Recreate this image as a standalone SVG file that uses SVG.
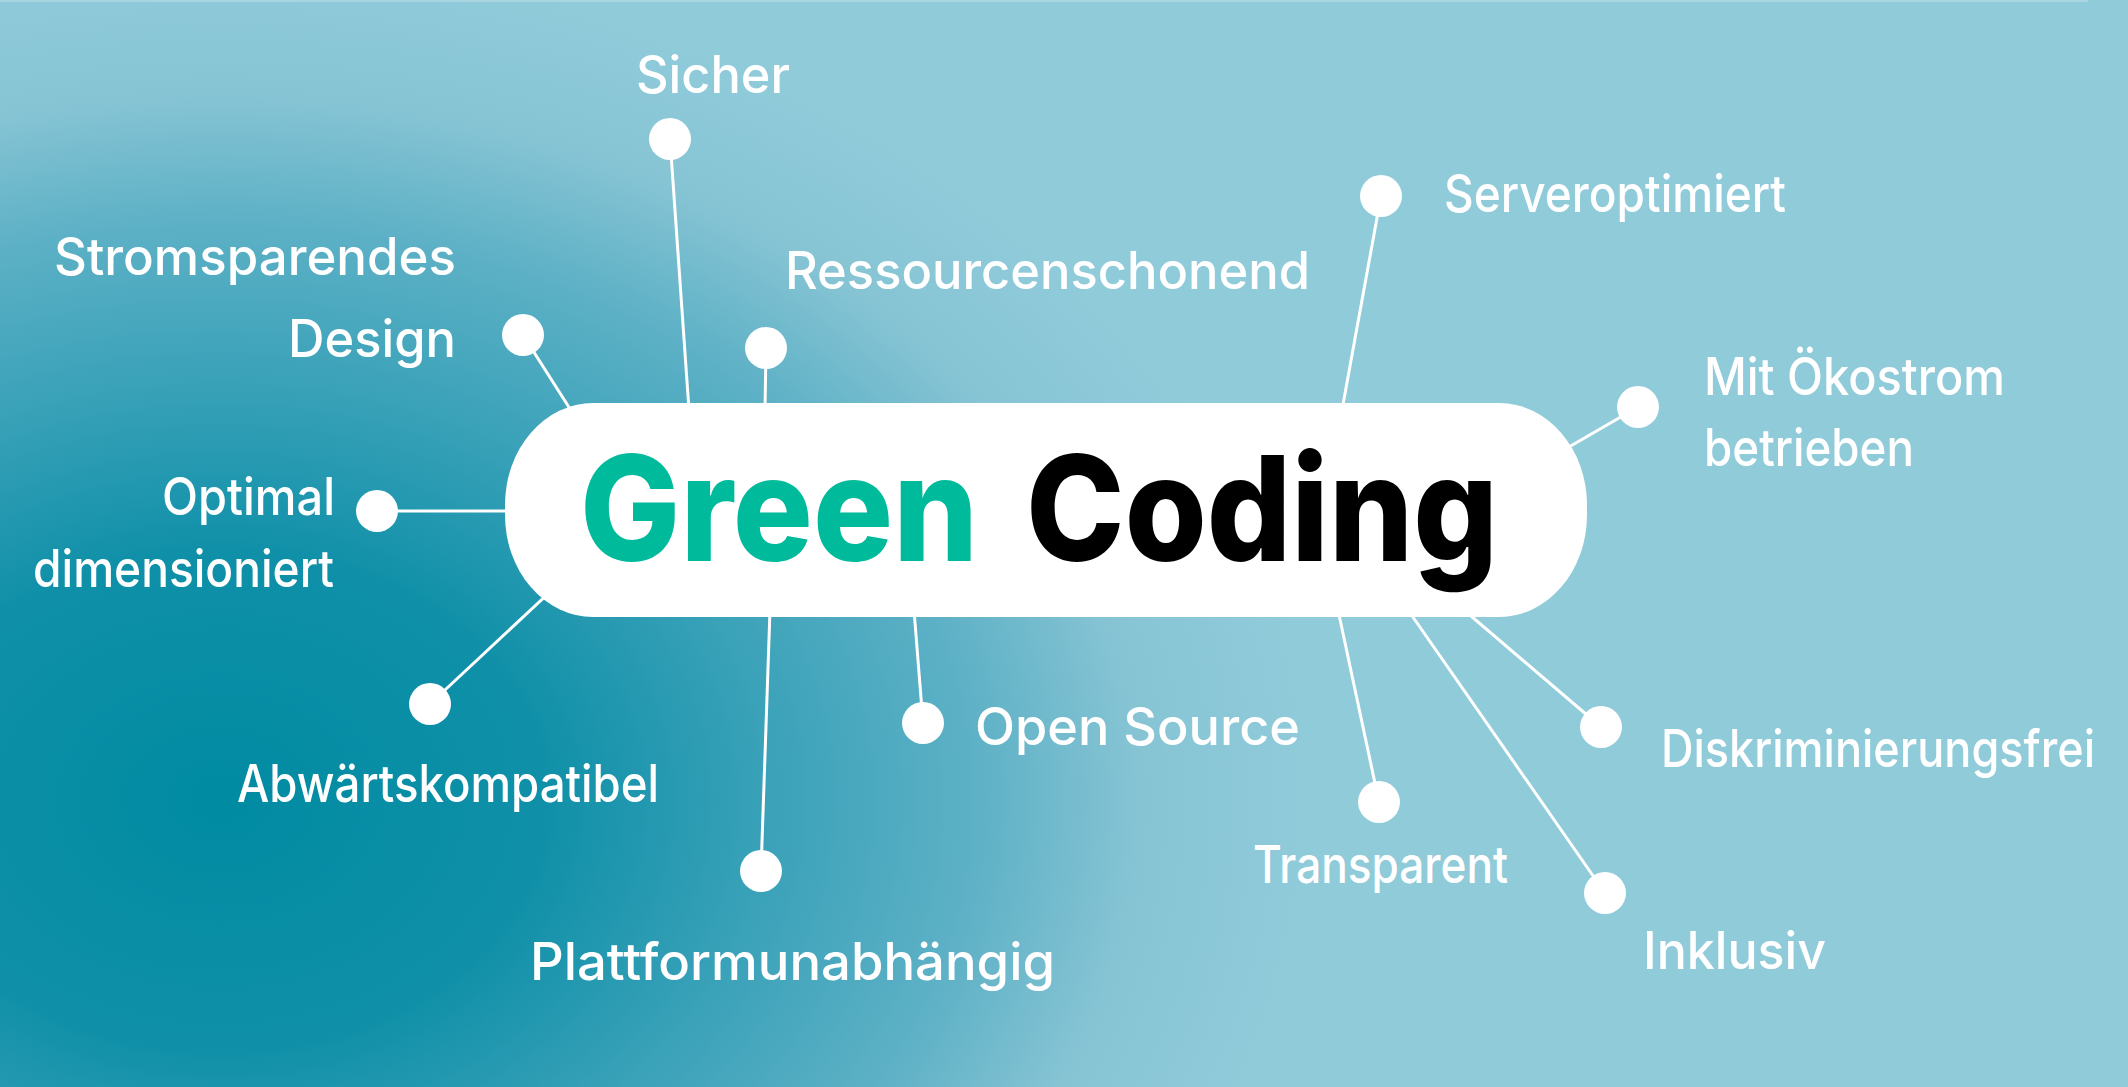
<svg xmlns="http://www.w3.org/2000/svg" width="2128" height="1087" viewBox="0 0 2128 1087">
  <defs>
    <radialGradient id="bg" gradientUnits="userSpaceOnUse" cx="220" cy="800" r="1000" gradientTransform="translate(220 800) scale(1.15 0.88) translate(-220 -800)">
      <stop offset="0" stop-color="#008ba2"/>
      <stop offset="0.28" stop-color="#0f90a8"/>
      <stop offset="0.47" stop-color="#38a1b8"/>
      <stop offset="0.66" stop-color="#5eb1c6"/>
      <stop offset="0.8" stop-color="#86c4d4"/>
      <stop offset="0.95" stop-color="#90cbda"/>
    </radialGradient>
    <style>
      .lbl { font-family: Inter, "Noto Sans", "Liberation Sans", sans-serif; font-weight: 500; font-size: 52px; fill: #ffffff; }
      .title { font-family: Inter, "Noto Sans", "Liberation Sans", sans-serif; font-weight: 800; font-size: 146px; }
      .conn { stroke: #ffffff; stroke-width: 3; fill: none; }
      .dot { fill: #ffffff; }
    </style>
  </defs>

  <rect x="0" y="0" width="2128" height="1087" fill="url(#bg)"/>
  <rect x="0" y="0" width="2088" height="2" fill="#b4d8e2" opacity="0.7"/>

  <g id="connectors">
    <line class="conn" x1="670" y1="139" x2="689" y2="410"/>
    <line class="conn" x1="523" y1="335" x2="572" y2="412"/>
    <line class="conn" x1="766" y1="348" x2="765" y2="410"/>
    <line class="conn" x1="1381" y1="196" x2="1342" y2="410"/>
    <line class="conn" x1="1638" y1="407" x2="1562" y2="451"/>
    <line class="conn" x1="377" y1="511" x2="512" y2="511"/>
    <line class="conn" x1="430" y1="704" x2="552" y2="590"/>
    <line class="conn" x1="761" y1="871" x2="770" y2="610"/>
    <line class="conn" x1="923" y1="723" x2="914" y2="610"/>
    <line class="conn" x1="1379" y1="802" x2="1338" y2="610"/>
    <line class="conn" x1="1605" y1="893" x2="1408" y2="610"/>
    <line class="conn" x1="1601" y1="727" x2="1464" y2="610"/>
  </g>

  <g id="center">
    <rect x="505" y="403" width="1082" height="214" rx="88" ry="102" fill="#ffffff"/>
    <text class="title" x="580" y="561" fill="#00bb9b" textLength="398" lengthAdjust="spacingAndGlyphs">Green</text>
    <text class="title" x="1026" y="561" fill="#000000" textLength="472" lengthAdjust="spacingAndGlyphs">Coding</text>
  </g>

  <g id="n-sicher">
    <circle class="dot" cx="670" cy="139" r="21"/>
    <text class="lbl" x="636" y="93" textLength="154" lengthAdjust="spacingAndGlyphs">Sicher</text>
  </g>
  <g id="n-stromsparend">
    <circle class="dot" cx="523" cy="335" r="21"/>
    <text class="lbl" x="54" y="275" textLength="402" lengthAdjust="spacingAndGlyphs">Stromsparendes</text>
    <text class="lbl" x="288" y="357" textLength="168" lengthAdjust="spacingAndGlyphs">Design</text>
  </g>
  <g id="n-ressourcen">
    <circle class="dot" cx="766" cy="348" r="21"/>
    <text class="lbl" x="785" y="289" textLength="525" lengthAdjust="spacingAndGlyphs">Ressourcenschonend</text>
  </g>
  <g id="n-server">
    <circle class="dot" cx="1381" cy="196" r="21"/>
    <text class="lbl" x="1444" y="212" textLength="342" lengthAdjust="spacingAndGlyphs">Serveroptimiert</text>
  </g>
  <g id="n-oekostrom">
    <circle class="dot" cx="1638" cy="407" r="21"/>
    <text class="lbl" x="1704" y="395" textLength="301" lengthAdjust="spacingAndGlyphs">Mit Ökostrom</text>
    <text class="lbl" x="1704" y="466" textLength="210" lengthAdjust="spacingAndGlyphs">betrieben</text>
  </g>
  <g id="n-optimal">
    <circle class="dot" cx="377" cy="511" r="21"/>
    <text class="lbl" x="162" y="515" textLength="173" lengthAdjust="spacingAndGlyphs">Optimal</text>
    <text class="lbl" x="33" y="587" textLength="301" lengthAdjust="spacingAndGlyphs">dimensioniert</text>
  </g>
  <g id="n-abwaerts">
    <circle class="dot" cx="430" cy="704" r="21"/>
    <text class="lbl" x="237" y="802" textLength="422" lengthAdjust="spacingAndGlyphs">Abwärtskompatibel</text>
  </g>
  <g id="n-plattform">
    <circle class="dot" cx="761" cy="871" r="21"/>
    <text class="lbl" x="530" y="980" textLength="525" lengthAdjust="spacingAndGlyphs">Plattformunabhängig</text>
  </g>
  <g id="n-opensource">
    <circle class="dot" cx="923" cy="723" r="21"/>
    <text class="lbl" x="975" y="745" textLength="325" lengthAdjust="spacingAndGlyphs">Open Source</text>
  </g>
  <g id="n-transparent">
    <circle class="dot" cx="1379" cy="802" r="21"/>
    <text class="lbl" x="1253" y="883" textLength="255" lengthAdjust="spacingAndGlyphs">Transparent</text>
  </g>
  <g id="n-diskriminierung">
    <circle class="dot" cx="1601" cy="727" r="21"/>
    <text class="lbl" x="1661" y="767" textLength="434" lengthAdjust="spacingAndGlyphs">Diskriminierungsfrei</text>
  </g>
  <g id="n-inklusiv">
    <circle class="dot" cx="1605" cy="893" r="21"/>
    <text class="lbl" x="1643" y="969" textLength="183" lengthAdjust="spacingAndGlyphs">Inklusiv</text>
  </g>
</svg>
